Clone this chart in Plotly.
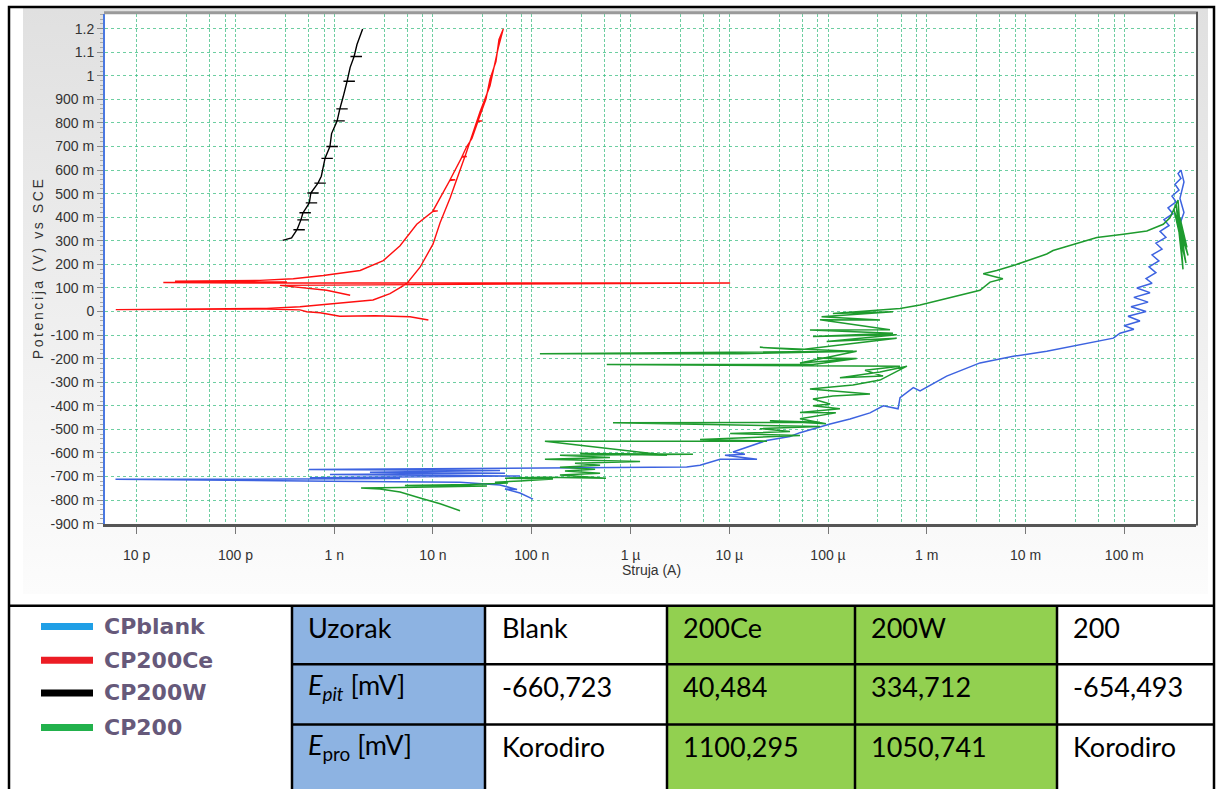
import base64
import plotly.graph_objects as go

W, H = 1216, 789

# ---------------- data (current in A, potential in V vs SCE) ----------------
blank_I = [1.03e-7, 7.6e-8, 5.36e-8, 7.1e-8, 4.77e-8, 1.88e-8, 9.05e-10, 6.1e-12, 3.57e-10, 4.64e-9,
           5.67e-10, 7.6e-8, 9.05e-10, 5.36e-8, 2.3e-9, 4.77e-8, 5.55e-10, 2.62e-7, 3.71e-6, 5.06e-6,
           8.07e-6, 1.91e-5, 9.05e-6, 1.44e-5, 1.09e-5, 2.39e-5, 4.12e-5, 5.2e-5, 1.05e-4, 1.67e-4,
           2.66e-4, 3.63e-4, 5.12e-4, 5.36e-4, 7.3e-4, 8.55e-4, 1.59e-3, 3.46e-3, 7.51e-3, 1.64e-2,
           3.56e-2, 5.67e-2, 7.75e-2, 9.05e-2,
           0.125, 0.0993, 0.144, 0.109, 0.166, 0.117, 0.174, 0.125, 0.182, 0.134,
           0.191, 0.166, 0.209, 0.178, 0.224, 0.191, 0.241, 0.209, 0.264, 0.230,
           0.284, 0.252, 0.311, 0.277, 0.334, 0.304, 0.358, 0.326, 0.375, 0.350,
           0.375, 0.402, 0.366, 0.402, 0.358]
blank_V = [-0.796, -0.770, -0.753, -0.755, -0.736, -0.724, -0.720, -0.712, -0.711, -0.709,
           -0.705, -0.698, -0.692, -0.686, -0.682, -0.675, -0.670, -0.664, -0.660, -0.652,
           -0.627, -0.627, -0.610, -0.606, -0.596, -0.547, -0.530, -0.514, -0.477, -0.456,
           -0.430, -0.400, -0.413, -0.365, -0.323, -0.337, -0.274, -0.218, -0.190, -0.169,
           -0.141, -0.127, -0.113, -0.092,
           -0.075, -0.060, -0.040, -0.020, 0.000, 0.020, 0.040, 0.060, 0.080, 0.100,
           0.120, 0.140, 0.165, 0.190, 0.215, 0.240, 0.265, 0.290, 0.315, 0.340,
           0.365, 0.390, 0.415, 0.440, 0.465, 0.490, 0.515, 0.540, 0.565, 0.585,
           0.600, 0.550, 0.480, 0.420, 0.360]

ce_I = [8.98e-9, 5.85e-9, 2.59e-9, 1.14e-9, 9.7e-10, 7.2e-10, 5.27e-10, 4.5e-10, 2.07e-10, 6.14e-12,
        2.07e-10, 4.5e-10, 9.78e-10, 2.47e-9, 3.67e-9, 5.42e-9, 7.4e-9, 1.0e-8, 1.18e-8, 1.49e-8,
        2.19e-8, 2.99e-8, 3.78e-8, 4.58e-8, 5.15e-8, 4.66e-8, 4.34e-8, 3.78e-8, 3.44e-8, 2.86e-8,
        3.15e-8, 2.85e-8, 2.48e-8, 2.19e-8, 1.97e-8, 2.2e-8, 1.96e-8, 1.49e-8, 1.68e-8, 1.48e-8,
        1.0e-8, 1.12e-8, 9.9e-9, 6.85e-9, 4.64e-9, 3.14e-9, 1.83e-9, 7.75e-10, 3.85e-10, 1.77e-10,
        2.44e-11, 3.32e-10, 1.86e-11, 1.40e-10, 1.02e-5, 2.82e-10, 8.37e-10, 1.45e-9]
ce_V = [-0.036, -0.022, -0.018, -0.020, -0.015, -0.005, -0.001, 0.007, 0.011, 0.008,
        0.013, 0.020, 0.034, 0.049, 0.076, 0.118, 0.188, 0.286, 0.377, 0.482,
        0.678, 0.847, 0.958, 1.119, 1.199, 1.154, 1.061, 0.986, 0.902, 0.809,
        0.809, 0.806, 0.734, 0.699, 0.658, 0.658, 0.655, 0.559, 0.559, 0.556,
        0.427, 0.427, 0.424, 0.370, 0.279, 0.216, 0.174, 0.153, 0.139, 0.132,
        0.129, 0.125, 0.123, 0.121, 0.121, 0.111, 0.090, 0.069]

w_I = [3.0e-10, 3.7e-10,
       4.2e-10, 5.04e-10, 3.86e-10, 4.2e-10,
       4.6e-10, 5.52e-10, 4.23e-10, 4.6e-10,
       4.83e-10, 5.8e-10, 4.44e-10, 4.83e-10,
       5.3e-10,
       5.6e-10, 6.72e-10, 5.15e-10, 5.6e-10,
       5.8e-10, 6.96e-10, 5.34e-10, 5.8e-10,
       6.85e-10, 8.22e-10, 6.3e-10, 6.85e-10,
       7.4e-10,
       8.07e-10, 9.68e-10, 7.42e-10, 8.07e-10,
       9.05e-10, 1.09e-9, 8.33e-10, 9.05e-10,
       9.4e-10,
       1.07e-9, 1.28e-9, 9.84e-10, 1.07e-9,
       1.14e-9, 1.37e-9, 1.05e-9, 1.14e-9,
       1.23e-9,
       1.35e-9, 1.62e-9, 1.24e-9, 1.35e-9,
       1.45e-9,
       1.59e-9, 1.91e-9, 1.46e-9, 1.59e-9,
       1.70e-9, 1.94e-9]
w_V = [0.302, 0.312,
       0.347, 0.347, 0.347, 0.347,
       0.389, 0.389, 0.389, 0.389,
       0.419, 0.419, 0.419, 0.419,
       0.445,
       0.461, 0.461, 0.461, 0.461,
       0.503, 0.503, 0.503, 0.503,
       0.545, 0.545, 0.545, 0.545,
       0.574,
       0.650, 0.650, 0.650, 0.650,
       0.700, 0.700, 0.700, 0.700,
       0.755,
       0.809, 0.809, 0.809, 0.809,
       0.860, 0.860, 0.860, 0.860,
       0.910,
       0.977, 0.977, 0.977, 0.977,
       1.036,
       1.082, 1.082, 1.082, 1.082,
       1.133, 1.199]

p200_I = [1.88e-8, 1.18e-8, 7.4e-9, 4.64e-9, 2.91e-9, 1.87e-9, 4.64e-9, 3.52e-8, 5.2e-9, 2.37e-8,
          5.75e-8, 4.24e-8, 7.6e-8, 1.64e-7, 5.36e-8, 1.36e-7, 5.65e-7, 1.93e-7, 4.92e-7, 2.17e-7,
          4.38e-7, 1.93e-7, 4.92e-7, 2.74e-7, 1.25e-6, 1.36e-7, 6.2e-7, 1.93e-7, 4.29e-6, 3.09e-7,
          2.34e-6, 2.28e-7, 1.36e-7, 2.41e-5, 5.06e-6, 5.2e-5, 1.02e-5, 4.12e-5, 2.04e-5, 8.28e-5,
          6.65e-7, 8.28e-5, 2.58e-5, 9.53e-5, 5.2e-5, 1.2e-4, 5.2e-5, 1.32e-4, 7.04e-5, 1.05e-4,
          7.04e-5, 1.12e-4, 2.66e-4, 6.56e-5, 1.79e-4, 3.36e-4, 6.3e-4, 3.36e-4, 1.32e-4, 3.61e-4,
          2.37e-4, 5.36e-4, 5.75e-7, 7.04e-5, 1.95e-4, 7.74e-5, 1.67e-4, 5.2e-5, 1.95e-4, 1.28e-5,
          1.21e-7, 1.79e-4, 4.42e-5, 2.04e-5, 5.2e-5, 4.96e-4, 9.7e-5, 4.96e-4, 7.04e-5, 4.55e-4,
          6.56e-5, 4.24e-4, 8.28e-5, 3.36e-4, 8.6e-5, 4.55e-4, 1.12e-4, 5.36e-4, 8.55e-4, 1.36e-3,
          3.46e-3, 4.37e-3, 5.9e-3, 3.73e-3, 5.1e-3, 7.51e-3, 1.64e-2, 1.9e-2, 3.56e-2, 5.27e-2,
          9.78e-2, 0.169, 0.248, 0.290, 0.350, 0.393, 0.334, 0.421, 0.319, 0.442,
          0.342, 0.412, 0.366, 0.431, 0.350, 0.402]
p200_V = [-0.845, -0.816, -0.791, -0.766, -0.753, -0.749, -0.747, -0.740, -0.738, -0.734,
          -0.728, -0.724, -0.719, -0.711, -0.707, -0.703, -0.707, -0.694, -0.686, -0.677,
          -0.669, -0.661, -0.652, -0.644, -0.636, -0.627, -0.619, -0.610, -0.606, -0.602,
          -0.610, -0.560, -0.550, -0.550, -0.543, -0.526, -0.518, -0.509, -0.497, -0.488,
          -0.472, -0.470, -0.463, -0.476, -0.455, -0.430, -0.428, -0.413, -0.400, -0.392,
          -0.371, -0.358, -0.350, -0.329, -0.312, -0.291, -0.232, -0.257, -0.281, -0.274,
          -0.249, -0.232, -0.225, -0.225, -0.199, -0.197, -0.203, -0.218, -0.169, -0.179,
          -0.179, -0.169, -0.157, -0.152, -0.162, -0.113, -0.127, -0.099, -0.106, -0.092,
          -0.078, -0.077, -0.035, -0.036, -0.022, -0.001, -0.008, 0.013, 0.028, 0.048,
          0.090, 0.125, 0.139, 0.160, 0.174, 0.195, 0.244, 0.259, 0.293, 0.314,
          0.328, 0.342, 0.370, 0.398, 0.473, 0.179, 0.457, 0.205, 0.431, 0.238,
          0.423, 0.221, 0.398, 0.272, 0.356, 0.293]

x_tick_vals = [1e-11, 1e-10, 1e-9, 1e-8, 1e-7, 1e-6, 1e-5, 1e-4, 1e-3, 1e-2, 1e-1]
x_tick_text = ["10 p", "100 p", "1 n", "10 n", "100 n", "1 µ", "10 µ", "100 µ", "1 m", "10 m", "100 m"]
y_tick_vals = [1.2, 1.1, 1.0, 0.9, 0.8, 0.7, 0.6, 0.5, 0.4, 0.3, 0.2, 0.1, 0.0,
               -0.1, -0.2, -0.3, -0.4, -0.5, -0.6, -0.7, -0.8, -0.9]
y_tick_text = ["1.2", "1.1", "1", "900 m", "800 m", "700 m", "600 m", "500 m", "400 m", "300 m",
               "200 m", "100 m", "0", "-100 m", "-200 m", "-300 m", "-400 m", "-500 m", "-600 m",
               "-700 m", "-800 m", "-900 m"]

legend_names = ["CPblank", "CP200Ce", "CP200W", "CP200"]
legend_colors = ["#1f9fe6", "#ec1c24", "#000000", "#22b14c"]

table_header = ["Uzorak", "Blank", "200Ce", "200W", "200"]
table_epit = ["<i>E</i><sub><i>pit</i></sub> [mV]", "-660,723", "40,484", "334,712", "-654,493"]
table_epro = ["<i>E</i><sub>pro</sub> [mV]", "Korodiro", "1100,295", "1050,741", "Korodiro"]

# ---------------- helpers ----------------
def px(x):
    return x / W

def py(y):
    return 1 - y / H

GRID = "rgba(60,190,130,0.75)"
minor_mant = [3.2, 5.5, 7.9]
minor_x = [m * 10.0 ** k for k in range(-11, 0) for m in minor_mant]

fig = go.Figure()

fig.add_trace(go.Scatter(x=blank_I, y=blank_V, mode="lines", name="CPblank",
                         line=dict(color="#3d63e0", width=1.5), hoverinfo="skip"))
fig.add_trace(go.Scatter(x=p200_I, y=p200_V, mode="lines", name="CP200",
                         line=dict(color="#1e9b2e", width=1.5), hoverinfo="skip"))
fig.add_trace(go.Scatter(x=ce_I, y=ce_V, mode="lines", name="CP200Ce",
                         line=dict(color="#ff1010", width=1.4), hoverinfo="skip"))
fig.add_trace(go.Scatter(x=w_I, y=w_V, mode="lines", name="CP200W",
                         line=dict(color="#000000", width=1.4), hoverinfo="skip"))

tickfont = dict(family="Liberation Sans, Arial, sans-serif", size=14, color="#333333")

fig.update_layout(
    width=W, height=H, margin=dict(l=0, r=0, t=0, b=0),
    paper_bgcolor="white", plot_bgcolor="rgba(0,0,0,0)", showlegend=False,
    xaxis=dict(type="log", domain=[px(105), px(1196)], range=[-11.321, -0.274],
               tickmode="array", tickvals=x_tick_vals, ticktext=x_tick_text,
               ticks="outside", ticklen=7, tickcolor="#777777", tickwidth=1,
               showline=True, linecolor="#555555", linewidth=3,
               showgrid=True, gridcolor=GRID, gridwidth=1, griddash="3px,2px",
               minor=dict(tickmode="array", tickvals=minor_x, showgrid=True, gridcolor=GRID,
                          gridwidth=1, griddash="3px,2px", ticks=""),
               tickfont=tickfont, ticklabelstandoff=10, zeroline=False, fixedrange=True),
    yaxis=dict(domain=[py(529), py(14)], range=[-0.9, 1.263],
               tickmode="array", tickvals=y_tick_vals, ticktext=y_tick_text,
               ticks="outside", ticklen=6, tickcolor="#888888", tickwidth=1,
               showline=True, linecolor="#4a78e0", linewidth=2,
               showgrid=True, gridcolor=GRID, gridwidth=1, griddash="dot",
               minor=dict(tick0=0, dtick=0.02, ticks="outside", ticklen=3, tickcolor="#aaaaaa",
                          showgrid=False),
               tickfont=tickfont, zeroline=False, fixedrange=True),
)

# background panel (gradient) and white plot area as a single SVG image
svg = (f"<svg xmlns='http://www.w3.org/2000/svg' width='{W}' height='{H}' viewBox='0 0 {W} {H}' "
       "preserveAspectRatio='none'><defs><linearGradient id='g' x1='0' y1='0' x2='0' y2='1'>"
       "<stop offset='0' stop-color='#e0e0e0'/><stop offset='1' stop-color='#fcfcfc'/>"
       "</linearGradient></defs>"
       "<rect x='23' y='8' width='1185' height='592' fill='url(#g)'/>"
       "<rect x='105' y='14' width='1091' height='515' fill='#ffffff'/></svg>")
src = "data:image/svg+xml;base64," + base64.b64encode(svg.encode()).decode()
fig.add_layout_image(dict(source=src, xref="paper", yref="paper", x=0, y=1, sizex=1, sizey=1,
                          xanchor="left", yanchor="top", sizing="stretch", layer="below"))

shapes = []
# plot frame top and right
shapes.append(dict(type="line", xref="paper", yref="paper", x0=px(104), x1=px(1198), y0=py(13), y1=py(13),
                   line=dict(color="#9a9a9a", width=3)))
shapes.append(dict(type="line", xref="paper", yref="paper", x0=px(1197), x1=px(1197), y0=py(12), y1=py(531),
                   line=dict(color="#555555", width=2)))
# outer border
shapes.append(dict(type="rect", xref="paper", yref="paper", x0=px(9), x1=px(1214), y0=py(7), y1=py(800),
                   line=dict(color="black", width=2.5)))
# table fills
for x0, x1, col in [(292, 485, "#8db3e2"), (667, 855, "#92d050"), (855, 1057, "#92d050")]:
    shapes.append(dict(type="rect", xref="paper", yref="paper", x0=px(x0), x1=px(x1), y0=py(612), y1=py(800),
                       fillcolor=col, line=dict(width=0), layer="below"))
# table lines
shapes.append(dict(type="line", xref="paper", yref="paper", x0=px(9), x1=px(1214), y0=py(612), y1=py(612),
                   line=dict(color="black", width=2.5)))
for yy in [671, 732]:
    shapes.append(dict(type="line", xref="paper", yref="paper", x0=px(292), x1=px(1214), y0=py(yy), y1=py(yy),
                       line=dict(color="black", width=2.5)))
for xx in [292, 485, 667, 855, 1057]:
    shapes.append(dict(type="line", xref="paper", yref="paper", x0=px(xx), x1=px(xx), y0=py(612), y1=py(800),
                       line=dict(color="black", width=2.5)))
# legend swatches
legend_y = [633, 667, 700, 735]
for yy, col in zip(legend_y, legend_colors):
    shapes.append(dict(type="line", xref="paper", yref="paper", x0=px(41), x1=px(93), y0=py(yy), y1=py(yy),
                       line=dict(color=col, width=7)))
fig.update_layout(shapes=shapes)

ann = []
ann.append(dict(text="Struja (A)", xref="paper", yref="paper", x=px(651), y=py(576), showarrow=False,
                xanchor="center", yanchor="middle",
                font=dict(family="Liberation Sans, Arial, sans-serif", size=14, color="#333333")))
ann.append(dict(text="Potencija (V) vs SCE", xref="paper", yref="paper", x=px(38), y=py(271), showarrow=False,
                xanchor="center", yanchor="middle", textangle=-90,
                font=dict(family="Liberation Sans, Arial, sans-serif", size=14, color="#333333")))
for name, yy in zip(legend_names, legend_y):
    ann.append(dict(text="<b>" + name + "</b>", xref="paper", yref="paper", x=px(102), y=py(yy), showarrow=False,
                    xanchor="left", yanchor="middle",
                    font=dict(family="DejaVu Sans, sans-serif", size=22, color="#66597a")))
col_x = [306, 500, 681, 869, 1071]
for row, yy in zip([table_header, table_epit, table_epro], [634, 694, 754]):
    for txt, xx in zip(row, col_x):
        ann.append(dict(text=txt, xref="paper", yref="paper", x=px(xx), y=py(yy), showarrow=False,
                        xanchor="left", yanchor="middle",
                        font=dict(family="Lato, Calibri, sans-serif", size=27, color="black")))
fig.update_layout(annotations=ann)

post = ("document.body.style.margin='0';document.body.style.overflow='hidden';"
        "document.querySelectorAll('.annotation-text').forEach(function(t){"
        "if(t.textContent.indexOf('Potencija')===0){t.style.letterSpacing='2.6px';}});")
fig.write_html("out.html", config={"displayModeBar": False}, post_script=post)
